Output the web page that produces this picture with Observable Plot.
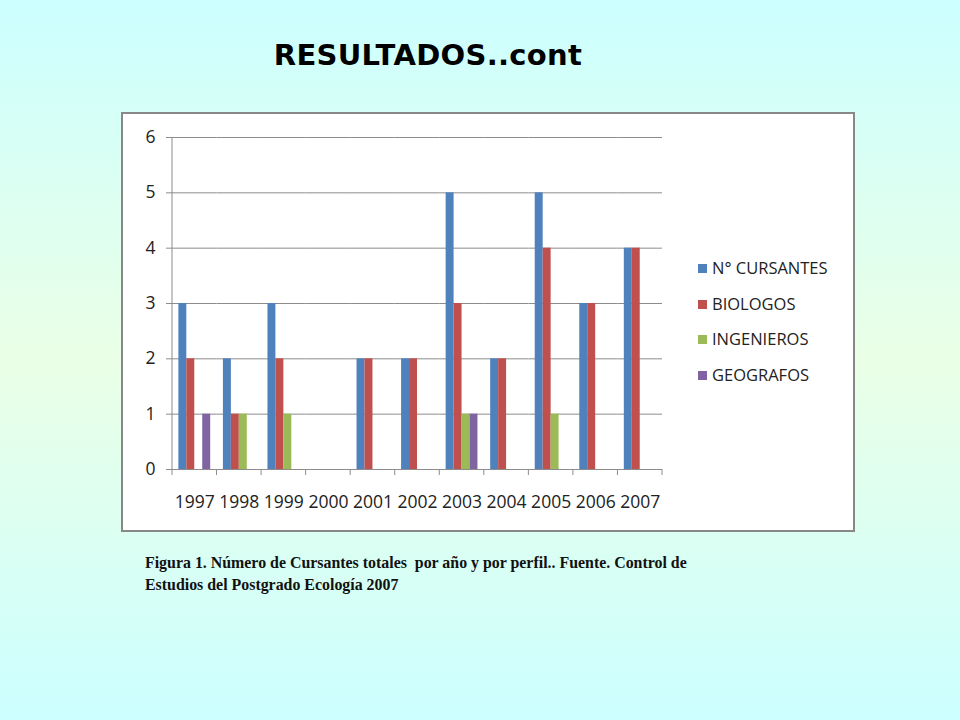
<!DOCTYPE html>
<html>
<head>
<meta charset="utf-8">
<script src="https://cdn.jsdelivr.net/npm/d3@7"></script>
<script src="https://cdn.jsdelivr.net/npm/@observablehq/plot@0.6"></script>
<style>
  html, body { margin: 0; padding: 0; }
  body {
    width: 960px; height: 720px; position: relative; overflow: hidden;
    background: linear-gradient(to bottom, #ccffff 0%, #eaffe6 50%, #ccffff 100%);
  }
  #title {
    position: absolute; left: 0; width: 856px; top: 38px; text-align: center;
    font-family: "Comic Sans MS", "DejaVu Sans", sans-serif; font-weight: bold;
    font-size: 29px; color: #000; letter-spacing: 0.3px;
  }
  #box {
    position: absolute; left: 121px; top: 112px; width: 730px; height: 416px;
    background: #fff; border: 2px solid #888;
  }
  #chart { position: absolute; left: -1px; top: -1px; }
  #legend {
    position: absolute; left: 575px; top: 145px;
    font-family: "Open Sans", "Liberation Sans", sans-serif; font-size: 16.5px; color: #222;
  }
  .item { position: absolute; left: 0; white-space: nowrap; line-height: 20px; }
  .sw { display: inline-block; width: 9px; height: 9px; margin-right: 5px; vertical-align: 1px; }
  #caption {
    position: absolute; left: 145px; top: 552px;
    font-family: "Liberation Serif", "Times New Roman", serif; font-weight: bold;
    font-size: 15.9px; line-height: 22px; color: #111;
  }
</style>
</head>
<body>
<div id="title">RESULTADOS..cont</div>
<div id="box"><div id="chart"></div><div id="legend"></div></div>
<div id="caption">Figura 1. Número de Cursantes totales&nbsp; por año y por perfil.. Fuente. Control de<br>Estudios del Postgrado Ecología 2007</div>
<script>
const years = ["1997","1998","1999","2000","2001","2002","2003","2004","2005","2006","2007"];
const series = ["N° CURSANTES","BIOLOGOS","INGENIEROS","GEOGRAFOS"];
const cursantes  = [3,2,3,0,2,2,5,2,5,3,4];
const biologos   = [2,1,2,0,2,2,3,2,4,3,4];
const ingenieros = [0,1,1,0,0,0,1,0,1,0,0];
const geografos  = [1,0,0,0,0,0,1,0,0,0,0];
const colors = ["#4F81BD","#C0504D","#9BBB59","#8064A2"];
const yTicks = [0,1,2,3,4,5,6];

const values = [cursantes, biologos, ingenieros, geografos];
const data = years.flatMap((yr, i) => series.map((s, j) => ({year: yr, serie: s, value: values[j][i]})));

const plot = Plot.plot({
  width: 560, height: 419,
  marginLeft: 50, marginRight: 20, marginTop: 24, marginBottom: 63,
  style: {fontFamily: "'Open Sans', 'Liberation Sans', sans-serif", fontSize: "15px", color: "#222", background: "transparent"},
  fx: {domain: years, padding: 0, round: false, label: null},
  x: {domain: series, paddingInner: 0, paddingOuter: 0.8, round: false, axis: null},
  y: {domain: [0, 6], label: null},
  color: {domain: series, range: colors},
  marks: [
    Plot.gridY(yTicks, {stroke: "#8c8c8c", strokeOpacity: 1}),
    Plot.barY(data, {fx: "year", x: "serie", y: "value", fill: "serie"}),
    Plot.ruleY([0], {stroke: "#8c8c8c"}),
    Plot.axisY(yTicks, {tickSize: 6, tickPadding: 11, stroke: "#8c8c8c", fontSize: 17.5, tickFormat: "d", label: null}),
    Plot.axisFx({anchor: "bottom", tickSize: 0, tickPadding: 26, fontSize: 17.5, label: null})
  ]
});
document.getElementById("chart").appendChild(plot);

// y-axis line and category-boundary ticks, positioned from the plot's scales
const fx = plot.scale("fx"), ys = plot.scale("y");
const svg = d3.select(plot);
const y0 = ys.apply(0), y6 = ys.apply(6);
const left = fx.apply(years[0]);
svg.append("line").attr("x1", left).attr("x2", left).attr("y1", y6).attr("y2", y0)
  .attr("stroke", "#8c8c8c");
const bounds = years.map(d => fx.apply(d)).concat([fx.apply(years[years.length-1]) + fx.bandwidth]);
svg.append("g").selectAll("line").data(bounds).join("line")
  .attr("x1", d => d).attr("x2", d => d).attr("y1", y0).attr("y2", y0 + 6)
  .attr("stroke", "#8c8c8c");

// legend
const legend = d3.select("#legend");
series.forEach((s, i) => {
  const it = legend.append("div").attr("class", "item").style("top", (i * 35.5 - 1) + "px");
  it.append("span").attr("class", "sw").style("background", colors[i]);
  it.append("span").text(s);
});
</script>
</body>
</html>
